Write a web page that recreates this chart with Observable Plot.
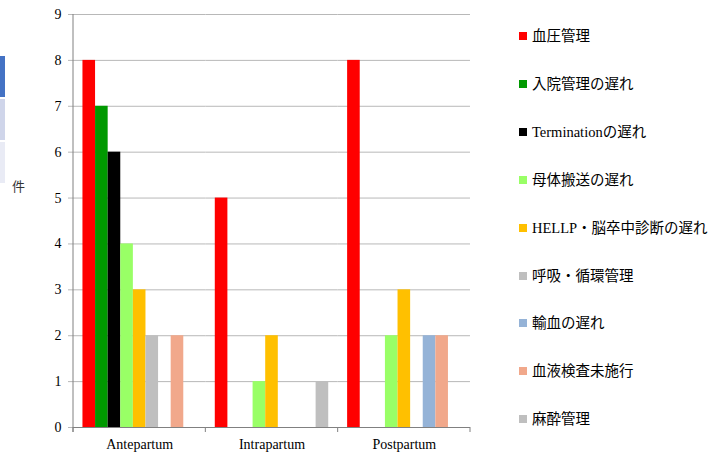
<!DOCTYPE html>
<html><head><meta charset="utf-8">
<script src="https://cdn.jsdelivr.net/npm/d3@7"></script>
<script src="https://cdn.jsdelivr.net/npm/@observablehq/plot@0.6"></script>
<style>
body{margin:0;background:#fff;}
#wrap{position:relative;width:720px;height:453px;overflow:hidden;font-family:"Liberation Serif","Noto Sans CJK JP",serif;}
#wrap svg{position:absolute;left:0;top:0;}
.lg{position:absolute;left:519px;display:flex;align-items:center;font-size:14.5px;line-height:18px;white-space:nowrap;color:#000;}
.lg i{display:inline-block;width:8px;height:8px;margin-right:5px;}
.ylab{position:absolute;left:12px;top:177px;font-size:13px;line-height:18px;font-family:"Noto Sans CJK JP",sans-serif;color:#333;}
.deco{position:absolute;left:0;width:5px;}
</style></head><body><div id="wrap"></div>
<script>
const phases = ["Antepartum", "Intrapartum", "Postpartum"];
const series = ["血圧管理", "入院管理の遅れ", "Terminationの遅れ", "母体搬送の遅れ", "HELLP・脳卒中診断の遅れ", "呼吸・循環管理", "輸血の遅れ", "血液検査未施行", "麻酔管理"];
const colors = ["#FF0000", "#009900", "#000000", "#99FF66", "#FFC000", "#BFBFBF", "#95B3D7", "#F1A88B", "#BFBFBF"];
const antepartum = [8, 7, 6, 4, 3, 2, 0, 2, 0];
const intrapartum = [5, 0, 0, 1, 2, 0, 0, 0, 1];
const postpartum = [8, 0, 0, 2, 3, 0, 2, 2, 0];
const yTicks = [0, 1, 2, 3, 4, 5, 6, 7, 8, 9];
const yLabel = "件";

const data = [];
[antepartum, intrapartum, postpartum].forEach((vals, i) =>
  vals.forEach((v, j) => { if (v > 0) data.push({phase: phases[i], series: series[j], value: v}); }));

const wrap = document.getElementById("wrap");
const gridGray = "#B8B8B8";
const axisGray = "#808080";

const plot = Plot.plot({
  width: 720, height: 453,
  marginLeft: 73, marginRight: 250, marginTop: 14, marginBottom: 26,
  style: {fontFamily: '"Liberation Serif","Noto Sans CJK JP",serif', fontSize: "14px", color: "#000", background: "transparent"},
  fx: {domain: phases, padding: 0, label: null, round: false},
  x: {domain: series, paddingInner: 0, paddingOuter: 0.75, round: false, axis: null},
  y: {domain: [0, 9], label: null},
  color: {domain: series, range: colors},
  marks: [
    Plot.gridY(yTicks, {stroke: gridGray, strokeOpacity: 1}),
    Plot.barY(data, {fx: "phase", x: "series", y: "value", fill: "series"}),
    Plot.ruleY([0], {stroke: axisGray}),
    Plot.axisY(yTicks, {tickSize: 5, tickPadding: 7, stroke: gridGray, fill: "#000", label: null, tickFormat: d => String(d)}),
    Plot.axisFx({anchor: "bottom", tickSize: 0, tickPadding: 12, label: null, fill: "#000"})
  ]
});
wrap.appendChild(plot);

// axis line and group separators drawn from the library's scales
const fx = plot.scale("fx"), y = plot.scale("y");
const svg = d3.select(plot);
const y0 = y.apply(0), y9 = y.apply(9);
const left = fx.apply(phases[0]);
svg.append("line").attr("x1", left).attr("x2", left).attr("y1", y9).attr("y2", y0 + 5).attr("stroke", axisGray);
const edges = phases.map(p => fx.apply(p)).concat([fx.apply(phases[phases.length - 1]) + fx.bandwidth]);
edges.forEach(e => svg.append("line").attr("x1", e).attr("x2", e).attr("y1", y0).attr("y2", y0 + 5).attr("stroke", axisGray));

// y label
const yl = document.createElement("div"); yl.className = "ylab"; yl.textContent = yLabel; wrap.appendChild(yl);

// decorative fragments at left edge
[["#4472C4", 56, 41], ["#CFD5EA", 99, 41], ["#E9EBF5", 142, 41]].forEach(([c, t, h]) => {
  const d = document.createElement("div"); d.className = "deco"; d.style.background = c; d.style.top = t + "px"; d.style.height = h + "px"; wrap.appendChild(d);
});

// legend
series.forEach((s, i) => {
  const it = document.createElement("div"); it.className = "lg";
  it.style.top = (36 + i * 47.9 - 9) + "px";
  const sw = document.createElement("i"); sw.style.background = colors[i];
  it.appendChild(sw); it.appendChild(document.createTextNode(s));
  wrap.appendChild(it);
});
</script></body></html>
